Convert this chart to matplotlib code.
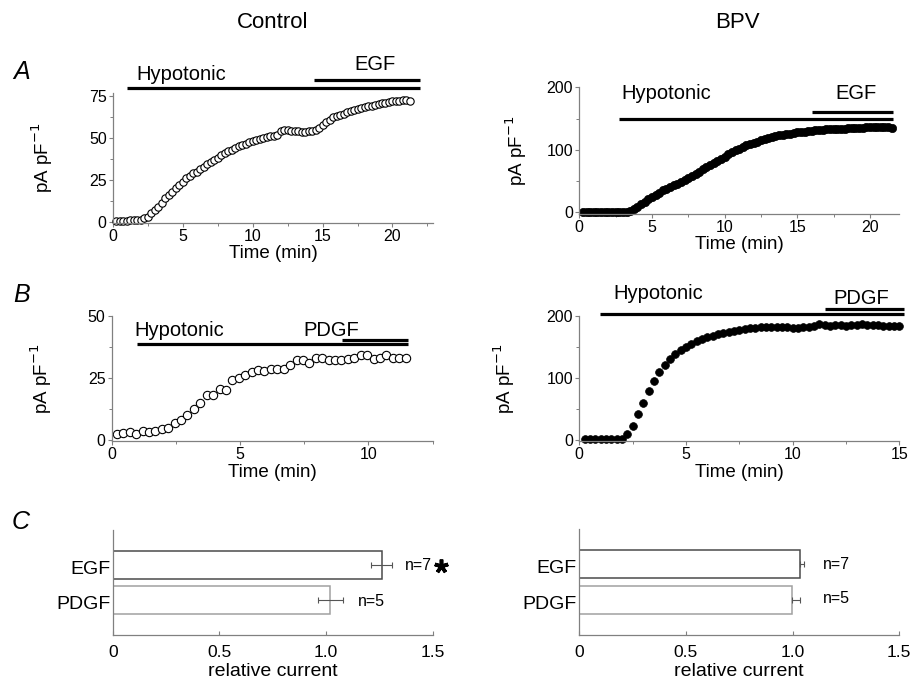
import numpy as np
import matplotlib
matplotlib.use("Agg")
import matplotlib.pyplot as plt
from matplotlib.ticker import MultipleLocator, FixedLocator

plt.rcParams['font.family'] = ['Liberation Sans', 'DejaVu Sans']

W, H = 911, 683

# ---------------- data ----------------
# Panel A, Control (open circles), sampled every 0.25 min
tA_ctrl_start, tA_ctrl_step = 0.25, 0.25
yA_ctrl = [0.5, 0.5, 0.5, 0.5, 0.8, 1, 1, 1.2,
           2, 3, 5, 7, 9, 11, 14,
           16, 18, 20, 22,
           24, 26, 27.5, 29,
           30, 31.5, 33, 34.5,
           35.5, 37, 38, 40,
           41, 42, 43, 44,
           45, 46, 46.5, 47.5,
           48, 49, 49.5, 50,
           50.5, 51, 51.5, 52,
           54, 55, 55, 54.5,
           54.5, 54, 53.5, 53.5,
           54, 54.5, 55, 56,
           58, 59.5, 61, 62.5,
           63.5, 64, 64.5, 65.5,
           66.5, 67, 67.5, 68,
           68.5, 69, 69.5, 70,
           70.5, 71, 71, 71.5,
           72, 72.5, 72.5, 73,
           73, 72.5]

# Panel A, BPV (filled circles)
tA_bpv_start, tA_bpv_step = 0.25, 0.25
yA_bpv = [1, 1, 1, 1, 1, 1, 1, 0.5, 0.5, 0.5, 0.5, 0.5, 1,
          2, 5, 9, 13, 17, 21,
          25, 28, 31, 35,
          38, 41, 43, 46,
          49, 52, 55, 58,
          62, 65, 69, 72,
          76, 79, 82, 86,
          89, 93, 96, 99,
          102, 104, 107, 109,
          111, 113, 115, 117,
          119, 120, 122, 123,
          124, 125, 126, 127,
          128, 129, 129, 130,
          130, 131, 131, 132,
          133, 133, 134, 134,
          134, 134, 135, 135,
          135, 135, 135, 136,
          136, 136, 136, 136,
          136, 136, 135]

# Panel B, Control
tB_ctrl_start, tB_ctrl_step = 0.2, 0.25
yB_ctrl = [2.4, 2.8, 3.2, 2.5, 3.6, 3.2, 3.6, 4.6, 4.8, 7, 8, 10, 12.5, 15,
           18, 18, 20.4, 20, 24, 25, 26, 27.5, 28, 27.7, 28.4, 28.5, 28.5,
           30, 32, 32, 31, 33, 33, 32, 32, 32, 32.4, 33, 34, 34, 32.5, 33,
           34, 33, 33, 33]

# Panel B, BPV
tB_bpv_start, tB_bpv_step = 0.25, 0.25
yB_bpv = [1.5, 1.5, 1.5, 1.5, 1, 1, 1, 2, 9, 22, 41, 60, 79, 95, 110, 121,
          130, 138, 144, 150, 155, 159, 163, 166, 168, 170, 172, 174, 176,
          177, 178, 180, 181, 182, 182, 182, 182, 182, 182, 181, 181, 182,
          182, 184, 186, 185, 184, 185, 185, 184, 185, 185, 186, 185, 185,
          185, 184, 184, 183, 183]

# Panel C
bar_labels = ['EGF', 'PDGF']
bar_n = ['n=7', 'n=5']
ctrl_rel = [1.26, 1.02]
ctrl_err = [0.05, 0.06]
bpv_rel = [1.035, 0.995]
bpv_err = [0.02, 0.04]

# application bars: (label, start, end)
A_ctrl_bars = [('Hypotonic', 1.0, 22.0), ('EGF', 14.4, 22.0)]
A_bpv_bars = [('Hypotonic', 2.75, 21.6), ('EGF', 16.0, 21.6)]
B_ctrl_bars = [('Hypotonic', 0.97, 11.55), ('PDGF', 8.96, 11.55)]
B_bpv_bars = [('Hypotonic', 0.97, 15.2), ('PDGF', 11.5, 15.2)]


def times(start, step, n):
    return start + step * np.arange(n)


fig = plt.figure(figsize=(W / 100, H / 100), dpi=100)


def add_ax(l, t, r, b):
    return fig.add_axes([l / W, 1 - b / H, (r - l) / W, (b - t) / H])


def ftext(x, y, s, **kw):
    fig.text(x / W, 1 - y / H, s, **kw)


GRAY = '#808080'


def style_time(ax, xmaj, xmin, ymaj, ymin, ylab_off):
    for s in ['top', 'right']:
        ax.spines[s].set_visible(False)
    for s in ['left', 'bottom']:
        ax.spines[s].set_color(GRAY)
        ax.spines[s].set_linewidth(0.9)
    ax.xaxis.set_major_locator(MultipleLocator(xmaj))
    ax.xaxis.set_minor_locator(MultipleLocator(xmin))
    ax.yaxis.set_major_locator(MultipleLocator(ymaj))
    ax.yaxis.set_minor_locator(MultipleLocator(ymin))
    ax.tick_params(which='major', direction='out', length=3, width=0.8,
                   color=GRAY, labelsize=11.5, pad=1.5)
    ax.tick_params(which='minor', direction='out', length=2, width=0.7,
                   color=GRAY)
    ax.set_xlabel('Time (min)', fontsize=13.5, labelpad=1)
    ax.set_ylabel('pA pF$^{-1}$', fontsize=13.5)
    bb = ax.get_position()
    ax.yaxis.set_label_coords(-ylab_off / (bb.width * W), 0.5)


def app_bars(ax, bars, ys, texts):
    for (lab, x0, x1), y, (tx, ty) in zip(bars, ys, texts):
        ax.plot([x0, x1], [y, y], color='black', lw=2.3, clip_on=False,
                solid_capstyle='butt')
        ax.text(tx, ty, lab, fontsize=14.5, ha='left', va='center',
                clip_on=False)


# ---- A Control ----
ax = add_ax(113, 93, 433, 222.5)
ax.plot(times(tA_ctrl_start, tA_ctrl_step, len(yA_ctrl)), yA_ctrl, 'o',
        mfc='white', mec='black', ms=5.3, mew=0.8, clip_on=False)
ax.set_xlim(0, 22.9)
ax.set_ylim(-0.5, 77)
style_time(ax, 5, 2.5, 25, 12.5, 58)
app_bars(ax, A_ctrl_bars, [80.2, 85], [(1.7, 88), (17.3, 94)])

# ---- A BPV ----
ax = add_ax(579.3, 87.3, 899, 213.6)
ax.plot(times(tA_bpv_start, tA_bpv_step, len(yA_bpv)), yA_bpv, 'o',
        mfc='black', mec='black', ms=6, mew=0.5, clip_on=False)
ax.set_xlim(0, 22)
ax.set_ylim(-2, 200)
style_time(ax, 5, 2.5, 100, 50, 50)
app_bars(ax, A_bpv_bars, [149, 160], [(2.9, 190), (17.6, 190)])

# ---- B Control ----
ax = add_ax(111.7, 315.7, 432.6, 441.2)
ax.plot(times(tB_ctrl_start, tB_ctrl_step, len(yB_ctrl)), yB_ctrl, 'o',
        mfc='white', mec='black', ms=6, mew=0.8, clip_on=False)
ax.set_xlim(0, 12.5)
ax.set_ylim(-0.5, 50)
style_time(ax, 5, 2.5, 25, 12.5, 58)
app_bars(ax, B_ctrl_bars, [38.5, 40.2], [(0.9, 44.2), (7.45, 44.2)])

# ---- B BPV ----
ax = add_ax(579.3, 315.7, 899.3, 441.2)
ax.plot(times(tB_bpv_start, tB_bpv_step, len(yB_bpv)), yB_bpv, 'o',
        mfc='black', mec='black', ms=5.6, mew=0.5, clip_on=False)
ax.set_xlim(0, 15)
ax.set_ylim(-2, 200)
style_time(ax, 5, 2.5, 100, 50, 62)
app_bars(ax, B_bpv_bars, [202, 210], [(1.6, 235), (11.9, 228)])


# ---- C panels ----
def bar_panel(l, t, r, b, vals, errs, one_sided):
    ax = add_ax(l, t, r, b)
    ypos = [1, 0]
    edge = ['#4a4a4a', '#a0a0a0']
    for y, v, e, ec in zip(ypos, vals, errs, edge):
        ax.barh(y, v, height=0.8, color='white', edgecolor=ec, lw=1.1,
                zorder=2)
        xe = [[0], [e]] if one_sided else e
        ax.errorbar(v, y, xerr=xe, fmt='none', ecolor='#555555',
                    elinewidth=0.8, capsize=2, capthick=0.8, zorder=3)
    ax.set_xlim(0, 1.5)
    ax.set_ylim(-1, 2)
    for s in ['top', 'right']:
        ax.spines[s].set_visible(False)
    for s in ['left', 'bottom']:
        ax.spines[s].set_color(GRAY)
        ax.spines[s].set_linewidth(0.9)
    ax.xaxis.set_major_locator(FixedLocator([0, 0.5, 1.0, 1.5]))
    ax.set_xticklabels(['0', '0.5', '1.0', '1.5'])
    ax.tick_params(axis='x', direction='in', length=3, width=0.8,
                   color=GRAY, labelsize=12.5, pad=7)
    ax.set_yticks([])
    for y, lab in zip(ypos, bar_labels):
        ax.text(-0.008, y - 0.13, lab, fontsize=14, ha='right',
                va='center', transform=ax.get_yaxis_transform())
    ax.set_xlabel('relative current', fontsize=14, labelpad=2)
    return ax


ax = bar_panel(112.7, 530, 432.7, 635, ctrl_rel, ctrl_err, False)
ax.text(1.37, 1.0, bar_n[0], fontsize=11.5, va='center', ha='left')
ax.text(1.15, -0.05, bar_n[1], fontsize=11.5, va='center', ha='left')
ax.plot([1.54], [0.97], marker=(5, 2, 0), ms=10, mew=2.6, color='black',
        clip_on=False)

ax = bar_panel(579.3, 529, 899.3, 635, bpv_rel, bpv_err, True)
ax.text(1.144, 1.0, bar_n[0], fontsize=11.5, va='center', ha='left')
ax.text(1.144, 0.03, bar_n[1], fontsize=11.5, va='center', ha='left')

# titles and panel letters
ftext(273, 22, 'Control', fontsize=16, ha='center', va='center')
ftext(737, 22, 'BPV', fontsize=16, ha='center', va='center')
ftext(22, 72, 'A', fontsize=18, style='italic', ha='center', va='center')
ftext(22, 295, 'B', fontsize=18, style='italic', ha='center', va='center')
ftext(21, 522, 'C', fontsize=18, style='italic', ha='center', va='center')

fig.savefig('out.png', dpi=100)
